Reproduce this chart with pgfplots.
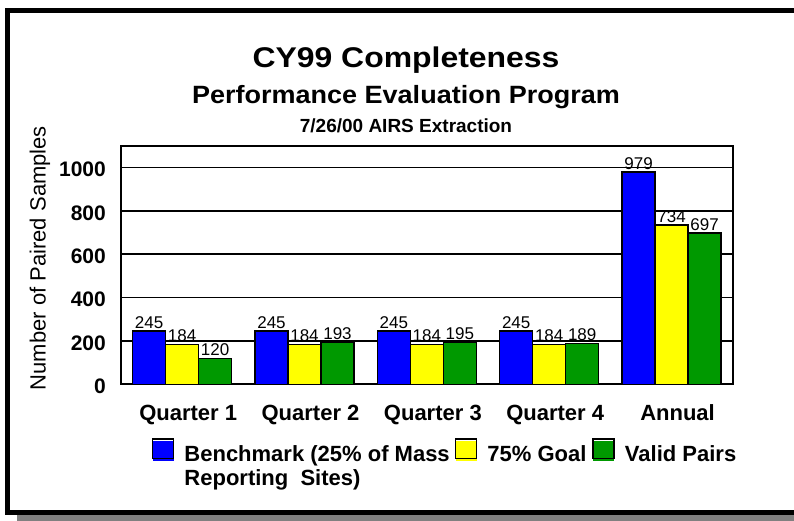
\documentclass[border=0pt]{standalone}
\usepackage{pgfplots}
\pgfplotsset{compat=1.18}
\usepackage{fontspec}
\setmainfont{Liberation Sans}
\definecolor{cblue}{RGB}{0,0,255}
\definecolor{cyellow}{RGB}{255,255,0}
\definecolor{cgreen}{RGB}{0,153,0}
\definecolor{cgray}{RGB}{128,128,128}
\pgfplotsset{
  legbox/.style={legend image code/.code={%
    \fill[fill=#1, draw=none] (0pt,1.2pt) rectangle (21pt,21pt);
    \draw[draw=black, fill=none, line width=1.5pt] (0pt,3.2pt) rectangle (21pt,22.7pt);}},
}
\begin{document}
\begin{tikzpicture}
\useasboundingbox (0pt,0pt) rectangle (794pt,-521pt);
\fill[white] (0pt,0pt) rectangle (794pt,-521pt);
% frame
\fill[black] (5pt,-8pt) rectangle (794pt,-13pt);
\fill[black] (5pt,-8pt) rectangle (10pt,-515pt);
\fill[black] (5pt,-510pt) rectangle (794pt,-515pt);
\fill[cgray] (17pt,-515pt) rectangle (794pt,-521pt);
% titles
\node[anchor=base,inner sep=0pt] at (406pt,-68pt) {\scalebox{1.12}[1]{\fontsize{28.5}{28}\selectfont\bfseries CY99 Completeness}};
\node[anchor=base,inner sep=0pt] at (406pt,-104pt) {\scalebox{1.08}[1]{\fontsize{25}{25}\selectfont\bfseries Performance Evaluation Program}};
\node[anchor=base,inner sep=0pt] at (406pt,-133pt) {\fontsize{19}{19}\selectfont\bfseries 7/26/00 AIRS Extraction};
\begin{axis}[
  at={(121pt,-384.3pt)}, anchor=south west,
  scale only axis, width=611.7pt, height=238.6pt,
  ybar=0pt, bar width=33pt,
  xmin=-0.5, xmax=4.5, ymin=0, ymax=1100,
  xtick=data,
  xticklabels={Quarter 1,Quarter 2,Quarter 3,Quarter 4,Annual},
  ytick={0,200,400,600,800,1000},
  major tick length=0pt,
  axis line style={line width=1.8pt},
  ymajorgrids, grid style={black,line width=1.5pt},
  /pgf/number format/assume math mode=true,
  /pgf/number format/1000 sep={},
  xticklabel style={font=\fontsize{22}{22}\selectfont\bfseries, anchor=north, inner sep=0pt, text height=15.75pt, yshift=-20.7pt, xshift=6pt},
  yticklabel style={font=\fontsize{21}{21}\selectfont\bfseries, anchor=east, inner sep=0pt, xshift=-15pt, yshift=-2pt},
  ylabel={Number of Paired Samples},
  ylabel style={font=\fontsize{22}{22}\selectfont, at={(axis description cs:-0.1324,0.529)}, anchor=center},
  nodes near coords,
  every node near coord/.append style={font=\fontsize{17}{17}\selectfont, anchor=south, inner sep=2pt},
  legend columns=3,
  legend style={at={(axis description cs:0.0506,-0.2261)}, anchor=north west,
    draw=none, fill=none, inner sep=0pt, outer sep=0pt,
    font=\fontsize{22}{24}\selectfont\bfseries,
    nodes={inner sep=0pt, anchor=base west},
    /tikz/every odd column/.append style={column sep=10pt},
    /tikz/every even column/.append style={column sep=6pt}},
]
\addplot[fill=cblue, draw=black, line width=1.5pt, legbox=cblue] coordinates {(0,245) (1,245) (2,245) (3,245) (4,979)};
\addlegendentry{\smash{\makebox[264.5pt][l]{\begin{tabular}[t]{@{}l@{}}Benchmark (25\% of Mass\\Reporting\ \ Sites)\end{tabular}}}}
\addplot[fill=cyellow, draw=black, line width=1.5pt, legbox=cyellow] coordinates {(0,184) (1,184) (2,184) (3,184) (4,734)};
\addlegendentry{75\% Goal}
\addplot[fill=cgreen, draw=black, line width=1.5pt, legbox=cgreen] coordinates {(0,120) (1,193) (2,195) (3,189) (4,697)};
\addlegendentry{Valid Pairs}
\end{axis}
\end{tikzpicture}
\end{document}
